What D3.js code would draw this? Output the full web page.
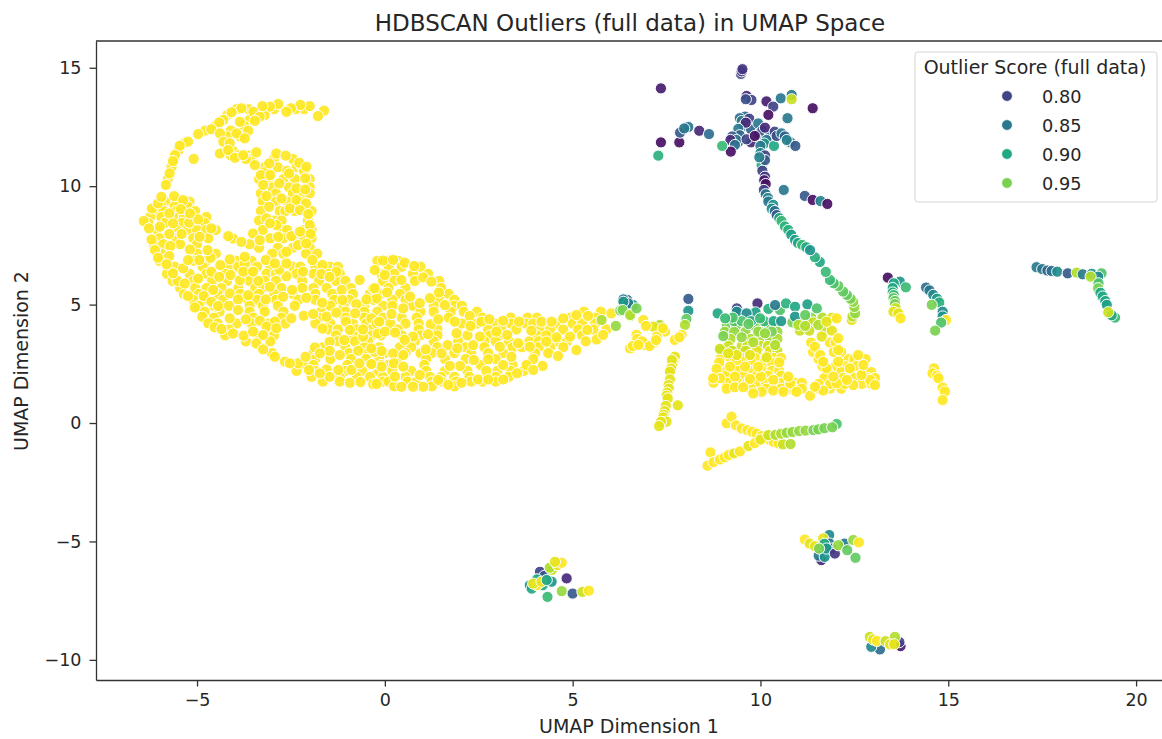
<!DOCTYPE html>
<meta charset="utf-8">
<style>
  body, html { margin: 0; background: #fff; }
  svg { display: block; }
  text { font-family: "DejaVu Sans", sans-serif; fill: #262626; }
  .axis path, .axis line { stroke: #333; stroke-width: 1.3; }
  .axis text { font-size: 17.5px; }
</style>
<body>
<svg></svg>
<script src="https://d3js.org/d3.v7.min.js"></script>
<script>
var xTicks = [-5, 0, 5, 10, 15, 20];
var yTicks = [-10, -5, 0, 5, 10, 15];
var legendScores = [0.80, 0.85, 0.90, 0.95];

// yellow body, all at score 1.0, [umap1, umap2]
var bodyTopArc = [[-1.62,13.19],[-1.78,12.96],[-2,13.38],[-2.25,13.43],[-2.5,13.29],[-2.62,13.14],[-2.84,13.47],[-3.06,13.36],[-3.26,13.38],[-3.5,13.14],[-3.33,12.93],[-3.46,12.76],[-3.82,13.29],[-4.08,13.12],[-4.41,12.69],[-4.62,12.4],[-4.97,12.2],[-3.86,12.72],[-3.64,12.34],[-3.95,12.23],[-3.73,12.02],[-4.39,12.23],[-4.3,11.88],[-4.13,11.81],[-5.24,11.88],[-5.46,11.71],[-5.59,11.31],[-5.64,11.06],[-5.73,10.54],[-5.83,10.05],[-5.09,11.15],[-4.39,11.38],[-4.17,11.52],[-3.99,11.2],[-3.77,11.31],[-3.42,11.43],[-3.46,10.89]];
var bodyRightLobe = [[-2.89,11.38],[-2.64,11.29],[-3.08,10.96],[-2.28,10.99],[-2.09,10.82],[-3.3,10.47],[-3.05,10.47],[-2.55,10.54],[-2.12,10.33],[-3.24,10.05],[-2.81,10.12],[-2.35,9.91],[-2.12,9.86],[-3.15,9.58],[-2.75,9.48],[-2.35,9.41],[-2.1,9.27],[-3.08,9.13],[-2.53,9.06],[-2.26,8.99],[-2.04,8.82],[-3.15,8.64],[-2.89,8.36],[-3.06,8.43],[-2,8.36],[-2.49,7.89],[-2.84,7.86],[-1.98,7.98],[-2.26,8.08],[-2.62,7.23],[-2.31,7.51],[-2.09,7.58],[-1.93,6.88],[-1.66,6.67],[-1.69,6.29],[-2.18,6.39],[-2.62,6.2],[-2.81,6.48],[-3.17,6.88],[-2.93,6.74],[-2.62,6.74],[-1.29,6.39],[-1.47,6.17],[-3.51,8],[-3.6,7.55],[-4.04,7.79],[-3.82,7.65],[-3.33,7.72],[-4.17,7.89]];
var bodyLeftLobe = [[-6.42,8.53],[-6.2,9.06],[-6.04,9.27],[-5.95,9.55],[-5.61,9.58],[-5.37,9.41],[-5.74,8.85],[-5.43,9.03],[-5.99,8.29],[-6.28,8.22],[-6.21,7.75],[-5.74,7.98],[-5.41,7.98],[-5.64,8.43],[-5.21,8.46],[-4.97,8.6],[-4.62,8.22],[-4.93,7.86],[-5.19,8.85],[-5.71,7.47],[-5.19,7.33],[-6.12,7.3],[-6.04,6.98],[-5.74,7.05],[-5.81,6.7],[-5.37,6.53],[-5.52,6],[-5.33,5.89],[-4.94,6.88],[-4.64,6.98],[-4.72,7.3],[-5.24,6.88],[-4.97,6.1],[-5.64,6.32],[-4.62,6.39],[-4.38,6.67],[-4.13,6.91],[-3.73,6.74],[-4.41,6.17],[-4.11,6.25],[-3.86,6.03],[-3.37,6],[-3.73,7.02],[-3.06,5.75],[-3.77,6.39],[-3.51,6.39]];
var bodyLowerEdge = [[-1.15,5.62],[-0.67,6.04],[-0.31,5.69],[-0.22,5.26],[-2.47,5.62],[-4.13,5.47],[-4.57,5.62],[-5.24,5.36],[-4.82,5.36],[-4.62,5.12],[-4.44,4.94],[-5.06,4.88],[-3.64,5.4],[-3.91,5.22],[-3.17,5.22],[-2.71,5.33],[-2.09,5.29],[-1.67,5.08],[-1.13,5.19],[-0.76,5.02],[-0.49,5.22],[-3.91,4.77],[-4.13,4.42],[-3.7,4.38],[-3.33,4.32],[-2.93,4.28],[-4.86,4.49],[-4.7,4.21],[-4.53,4.04],[-4.35,3.97],[-2.49,4.42],[-2.16,4.53],[-1.91,4.6],[-1.55,4.49],[-1.29,4.66],[-1.04,4.28],[-0.79,4.63],[-1.66,3.99],[-0.36,4.42],[-3.15,4.07],[-2.89,4],[-4.04,3.78],[-3.76,3.69],[-3.51,3.86],[-3.24,3.71],[-3.42,3.36],[-3.24,3.11],[-2.93,2.8],[-2.66,2.59],[-2.31,2.52],[-2.11,2.8],[-1.86,3.19],[-1.47,3.43],[-1.08,3.5],[-0.58,3.64],[-0.93,3.93],[-0.58,3.95],[-1.47,3.05],[-1.2,2.87],[-0.71,3.05],[-0.27,3.01],[-1.73,2.94],[-2.02,2.24],[-1.55,2.26],[-1.24,2.24],[-0.89,2.24],[-0.68,2.52],[-0.36,2.45],[-0.93,1.7],[-0.65,1.73],[-0.31,1.64],[-1.47,1.95],[-1.73,2.1],[-2.53,2.52],[-0.22,4.21],[-0.18,3.78]];
var bodyTail = [[-0.05,6.86],[0.22,6.89],[0.53,6.77],[0.78,6.63],[-0.27,6.46],[0,6.25],[0.44,6.04],[1.02,6.15],[1.24,5.97],[-0.27,5.69],[0.06,5.51],[0.67,5.34],[1.2,5.27],[1.44,5.51],[0.93,5.06],[1.6,4.98],[0.49,4.84],[0.18,4.6],[-0.15,4.28],[1.86,4.28],[2.26,4.52],[1.22,4.17],[1.42,4.38],[2.28,4.1],[2.57,4.28],[2.78,4.38],[3.15,4.32],[3.57,4.28],[4.17,4.28],[4.75,4.42],[4.44,4.28],[5.1,4.56],[5.41,4.52],[6.03,4.63],[0,3.86],[0.27,3.82],[0.75,3.65],[1.15,3.75],[0.53,3.51],[1.91,3.79],[2.53,3.65],[3.26,3.72],[3.9,3.9],[2.97,3.86],[4.57,3.62],[4.93,3.65],[5.39,3.93],[5.64,3.53],[5.81,3.72],[5.1,3.08],[4.61,2.83],[4.3,3.44],[2.35,3.29],[1.67,3.29],[1.09,3.11],[1.93,3.15],[3.06,3.22],[3.86,3.22],[3.37,2.8],[3.55,3.37],[-0.09,3.04],[0.22,2.94],[-0.36,3.15],[1.51,2.94],[2.75,2.69],[2.37,2.66],[2,2.41],[1.73,2.41],[3.15,2.45],[3.77,2.45],[4.2,2.41],[0.24,2.52],[-0.09,2.38],[-0.36,2.49],[0.93,2.03],[0.27,1.96],[0.49,2.38],[0.44,1.53],[1.02,1.53],[1.69,1.61],[2.04,1.7],[2.48,1.84],[2.75,1.84],[3.15,1.84],[3.52,2.1],[3.95,2.24],[-0.22,1.65],[0.75,1.53],[1.42,1.82],[0.49,2.87]];
// denser fill of the body, rows of [umap2, [umap1...]]
var bodyFillRows = [
[13.25,[-2.15,-2.38,-2.95,-3.16,-3.62,-3.95]],[13,[-4.2,-3.2]],[12.8,[-4.3,-3.6]],[12.55,[-4.5,-3.75]],[12.35,[-4.78,-4.1]],[12.1,[-4.2,-3.85]],[11.8,[-5.35]],[11.5,[-5.5,-4.25,-4.05]],[11.3,[-4.1,-3.9,-3.6]],[11.15,[-5.6,-3.55,-3.7,-2.95,-2.45]],
[10.8,[-5.68,-3.2,-2.85,-2.35,-2.2]],[10.65,[-3.15,-2.6,-2.15]],[10.3,[-5.78,-3.35,-3.1,-2.7,-2.4,-2]],[9.95,[-3,-2.55,-2]],[9.7,[-3.3,-2.9,-2.45,-2.2,-2]],[9.35,[-5.85,-5.5,-5.2,-3.25,-2.9,-2.6,-2.25]],
[9.15,[-5.95,-5.6,-5.25]],[8.95,[-6.1,-5.9,-5.55,-5.05,-3.3,-2.8,-2.65,-2.4,-1.95]],[8.7,[-6.25,-5.95,-5.5,-5.35,-4.75]],[8.55,[-3.35,-2.95,-2.75,-2.05]],[8.45,[-6.3,-5.85,-5.4,-4.8]],
[8.15,[-6.05,-5.55,-5.25,-5,-4.75,-4.5,-3.25,-2.75,-2.6,-2.15,-1.95]],[7.8,[-6,-5.55,-5.1,-4.7,-3.05,-2.7,-2.4,-2.15,-1.95]],[7.55,[-6.15,-5.9,-5.45,-5]],[7.4,[-3.35,-2.85,-2.45,-2]],
[7.15,[-5.95,-5,-4.5,-3,-2.7,-2.1,-1.8]],[6.85,[-6,-5.1,-4.75,-3.95,-3.55,-0.2,0.35,0.1]],[6.6,[-5.6,-4.85,-4.15,-3.9,-3.4,-3.05,-2.45,-2.25,-1.85,-1.45,-1.25,0.1,0.45,0.95]],
[6.3,[-5.8,-5.2,-4.75,-4.25,-3.6,-3.15,-2.9,-2.35,-1.9,-1.5,-1.2,-0.1,0.25,0.75,1.15]],[6,[-5.65,-5.1,-4.6,-4.2,-3.6,-3.2,-2.9,-2.2,-1.75,-1.3,-1.05,-0.05,0.25,0.8,1.45]],
[5.7,[-5.45,-5.05,-4.75,-4.35,-3.9,-3.45,-3.25,-2.75,-2.2,-1.9,-1.55,-0.9,0.1,0.55,1.5]],[5.45,[-5.35,-4.95,-4.45,-3.85,-3.35,-2.95,-2.45,-1.85,-1.4,-0.85,-0.4,-0.1,0.4,1.7]],
[5.2,[-5.1,-4.8,-4.3,-3.65,-3.4,-2.9,-2.3,-1.85,-1.35,-0.95,-0.3,0.2,0.55,1.45,1.85]],[4.95,[-4.95,-4.55,-4.15,-3.6,-3.25,-2.85,-2.4,-1.45,-1.1,-0.55,-0.05,0.2,0.75,1.3,1.85,2.05]],
[4.7,[-4.8,-4.4,-3.6,-3.2,-2.7,-1.7,-1.05,-0.55,-0.2,0.95,1.3,1.75,2.1,2.45,5.3,5.75]],[4.45,[-4.55,-3.5,-2.75,-1.75,-1.05,-0.55,-0.05,0.45,0.85,1.7,2.6,3.35,3.8,4.05,4.95,5.6]],
[4.2,[-4.45,-3.95,-3.55,-3.1,-2.65,-1.85,-1.45,-0.85,-0.5,0.15,0.55,0.9,2.05,2.45,2.95,3.35,3.75,3.95,4.6,5,5.25,5.6]],
[3.95,[-4.15,-3.05,-1.5,-1.25,-0.75,-0.35,0.35,0.9,1.4,2.75,3.1,3.5,4.15,4.4,4.75,5.15,5.55,5.9]],[3.7,[-4.25,-3.35,-2.95,-1.3,-0.85,-0.35,-0.1,0.45,0.95,1.4,2.2,2.8,3.05,4.05,4.3,5.25]],
[3.45,[-3.7,-3.05,-1.25,-0.8,-0.45,0.8,1.3,1.95,2.65,2.95,3.3,3.85,4.1,4.6,4.85,5.35]],[3.2,[-1.65,-1.05,-0.55,-0.15,0.4,0.7,1.4,2.15,2.65,3.4,3.65,4.1,4.4,4.75]],
[2.95,[-3,-1.9,-0.95,-0.45,0,0.55,0.95,1.25,1.85,2.3,2.75,3.15,4,4.35]],[2.7,[-1.85,-1.45,-0.9,-0.5,-0.15,0.35,1.1,1.6,2.15,2.95,3.95]],
[2.45,[-2.1,-1.9,-1,-0.1,0.1,1.05,2.55,3.4]],[2.2,[-2.35,-1.85,-1.05,-0.6,-0.2,0.2,0.7,1.1,1.6,2.2,2.7,3,3.35,3.7]],
[1.95,[-1.95,-1.2,-0.75,-0.4,-0.05,0.55,1.2,1.5,1.85,2.25,2.95,3.3]],[1.75,[-1.65,-1.2,-0.05,0.1,0.6,0.85,1.25,1.5,1.9,2.3,2.6,2.95]],[1.55,[0.25,1.25,1.85]]
];

// everything else, [umap1, umap2, score]
var blockFill = [[9.1,4.1,.95],[9.35,4.1,.95],[9.85,4.1,.95],[10.15,4.1,.94],[10.4,4.1,.95],[9.05,3.85,.96],[9.3,3.85,.96],[9.6,3.85,.96],[10,3.85,.96],[10.45,3.85,.96],[9.2,3.55,.97],[9.75,3.55,.97],[10,3.55,.97],[10.25,3.55,.96],[10.45,3.55,.97],[9.15,3.25,.98],[9.5,3.25,.98],[9.65,3.25,.98],[10,3.25,.98],[10.2,3.25,.98],[8.95,3.05,.98],[9.25,3.05,.98],[9.6,3.05,.98],[9.9,3.05,.99],[10.25,3.05,.99],[10.45,3.05,.98],[8.95,2.75,1],[9.2,2.75,1],[9.5,2.75,1],[9.85,2.75,1],[10.35,2.75,1],[10.55,2.75,1],[8.9,2.55,1],[9.35,2.55,1],[9.75,2.55,1],[10.1,2.55,1],[10.3,2.55,1],[9.1,2.2,1],[9.4,2.2,1],[9.7,2.2,1],[10.05,2.2,1],[10.3,2.2,1],[10.5,2.2,1],[8.85,2,1],[9.1,2,1],[9.55,2,1],[9.9,2,1],[10.2,2,1],[10.55,2,1],[8.75,1.7,1],[9.1,1.7,1],[9.4,1.7,1],[9.65,1.7,1],[9.95,1.7,1],[10.15,1.7,1],[10.5,1.7,1],[10.9,1.7,1],[11.1,1.7,1],[9.1,1.45,1],[9.75,1.45,1],[10.15,1.45,1],[10.55,1.45,1],[10.8,1.45,1],[11.1,1.45,1],[11.55,1.45,1],[11.85,1.45,1],[12.15,1.45,1]];
var blockRightFill = [[11.35,4.45,.96],[11.65,4.45,.97],[11.9,4.45,.99],[10.85,4.25,.95],[11.1,4.25,.97],[11.4,4.25,.98],[11.05,3.9,.98],[11.3,3.9,.98],[11.7,3.9,.98],[11.9,3.9,.99],[11.35,3.4,1],[11.85,3.4,1],[12,3.4,1],[11.4,3,1],[11.95,3,1],[12.15,3,1],[11.55,2.7,1],[12.35,2.7,1],[12.5,2.7,1],[12.8,2.7,1],[11.65,2.4,1],[12,2.4,1],[12.25,2.4,1],[12.55,2.4,1],[11.8,2.15,1],[12.15,2.15,1],[12.4,2.15,1],[12.75,2.15,1],[12.95,2.15,1],[11.7,1.9,1],[12.2,1.9,1],[12.5,1.9,1],[12.85,1.9,1],[13.05,1.9,1],[11.55,1.65,1],[11.85,1.65,1],[12.25,1.65,1],[12.7,1.65,1],[12.95,1.65,1]];
var tailEnd = [[5.77,4.35,.97],[6.15,4.1,.96],[6.42,5.03,.9],[6.45,5.2,.85],[6.35,5.22,.85],[6.61,4.98,.88],[6.48,5.05,.85],[6.35,5.12,.88],[6.27,4.75,.95],[6.54,4.52,.96],[6.33,4.77,.95],[6.53,4.56,.97],[6.7,4.84,.95]];
var smallHook = [[6.88,4.35,1],[7.32,4.14,.97],[7.15,4.07,.99],[7.46,3.86,1],[6.7,3.72,1],[7.24,3.65,1],[6.66,3.29,1],[6.93,3.29,1],[7.15,3.37,1],[6.53,3.15,1],[6.79,3.44,1],[6.72,3.55,1],[6.85,3.45,1],[7.05,3.25,1],[6.6,3.25,1],[7.22,3.5,1],[7.4,4,1],[6.95,4.1,1],[6.75,3.3,1]];
var stem = [[8.08,5.24,.82],[8.08,4.74,.88],[8.03,4.39,.94],[7.99,4.14,.97],[7.9,3.72,1],[7.72,3.51,1],[7.84,3.62,1],[7.72,2.8,.99],[7.68,2.6,.99],[7.65,2.45,.99],[7.64,2.66,.99],[7.62,2.3,.99],[7.59,2.17,.99],[7.59,1.84,.99],[7.55,1.6,.99],[7.56,1.45,.99],[7.52,1.28,.99],[7.5,1.15,.99],[7.53,1.04,.99],[7.48,.72,.99],[7.8,.75,.99],[7.45,.5,.99],[7.42,.35,.99],[7.41,.24,.99],[7.5,.06,.99],[7.35,.05,.99],[7.3,-.13,.99]];
var blockTop = [[8.86,4.63,.9],[9.37,4.84,.8],[9.37,4.7,.87],[9.92,5.05,.78],[9.87,4.67,.89],[9.63,4.63,.87],[10.21,4.82,.91],[10.52,4.77,.93],[10.68,5.05,.91],[10.92,4.91,.9],[11.25,5.01,.89],[11.5,4.84,.93],[10.39,4.98,.85],[9.3,4.3,.93],[9.5,4.3,.93],[9.75,4.3,.9],[10.1,4.3,.92],[10.35,4.3,.9],[10.55,4.3,.88],[9.26,4.45,.93],[9.06,4.42,.92],[9.68,4.18,.94],[9.99,4.42,.92],[10.92,4.49,.88],[11.19,4.56,.94]];
var blockMiddle = [[11.01,4.14,.97],[11.19,4.1,.97],[11.54,4.14,.97],[11.76,4.28,.99],[12.03,4.42,1],[9.01,3.67,.95],[9.5,3.62,.96],[9.94,3.86,.96],[10.3,3.86,.95],[10.12,3.79,.96],[9.81,3.41,.97],[10.39,3.29,.97],[8.92,3.13,.98],[9.37,2.87,.99],[9.72,2.87,.99],[10.16,2.77,.99],[10.5,2.56,1],[9.14,2.94,.99]];
var blockBottom = [[8.83,2.28,1],[8.92,1.89,1],[9.32,1.96,1],[9.72,1.86,1],[10.01,1.96,1],[10.34,1.82,1],[9.32,1.51,1],[9.54,1.51,1],[10.03,1.32,1],[10.34,1.37,1],[10.79,1.67,1],[10.96,1.32,1],[11.32,1.15,1],[11.67,1.37,1],[11.45,1.53,1],[9.81,1.25,1],[10.61,1.32,1],[8.74,1.89,1],[9.19,2.38,1],[9.59,2.38,1],[9.94,2.38,1],[10.74,1.96,1]];
var blockRight = [[11.63,3.65,.99],[12.07,3.58,1],[11.45,3.22,1],[11.59,2.87,1],[12.07,3.08,1],[11.76,2.31,1],[12.07,2.59,1],[12.38,2.31,1],[12.6,2.87,1],[12.47,1.6,1],[12.92,1.82,1],[12.03,1.68,1],[12.69,2.03,1],[11.94,1.96,1],[12.3,1.82,1],[13.05,1.6,1],[12.74,2.45,1],[11.67,2.59,1]];
var crossLines = [[9.1,-.01,1],[9.23,.27,1],[9.35,-.1,1],[9.5,-.23,1],[9.65,-.3,1],[9.78,-.37,1],[9.9,-.45,1],[10.03,-.55,1],[10.15,-.65,1],[10.25,-.72,1],[10.35,-.8,1],[10.48,-.86,1],[10.6,-.9,.98],[10.8,-.89,.97],[8.59,-1.8,1],[8.67,-1.24,1],[8.75,-1.65,1],[8.92,-1.54,1],[9.05,-1.45,1],[9.15,-1.35,1],[9.3,-1.28,.99],[9.45,-1.2,1],[9.68,-.97,.99],[9.85,-.85,1],[10,-.7,.99],[10.21,-.51,.98],[10.4,-.5,.97],[10.55,-.45,.97],[10.7,-.41,.96],[10.85,-.38,.96],[11.03,-.34,.96],[11.2,-.32,.96],[11.41,-.3,.95],[11.54,-.27,.95],[11.7,-.22,.95],[12.03,-.04,.93],[11.91,-.18,.95]];
var armBridge = [[12.43,4.35,.99],[12.45,4.5,.97],[12.52,4.63,.96],[12.5,4.9,.96],[12.47,5.12,.96],[12.4,5.25,.95],[12.3,5.41,.94],[12.2,5.55,.94],[12.07,5.79,.94],[11.95,5.9,.93],[11.85,6.04,.92],[11.74,6.38,.92],[11.58,6.8,.9],[11.45,7,.91]];
var starTop = [[9.48,14.74,.8],[9.5,14.85,.79],[9.52,14.94,.79],[7.35,14.13,.77],[9.63,13.81,.78],[9.76,13.64,.8],[9.61,13.67,.81],[10.16,13.58,.77],[10.34,13.36,.8],[10.21,13.01,.76],[10.54,13.71,.85],[10.83,13.85,.85],[10.83,13.67,.98],[11.39,13.29,.76],[10.72,12.87,.85]];
var starCore = [[9.59,12.94,.84],[9.45,12.87,.84],[9.5,12.75,.85],[9.7,12.85,.8],[9.55,12.55,.84],[9.75,12.4,.83],[9.94,12.65,.85],[9.95,12.2,.84],[10.05,12.35,.82],[10.25,12.15,.84],[9.61,12.68,.78],[9.41,12.42,.85],[9.45,12.15,.83],[9.25,12.1,.82],[10.12,12.47,.78],[9.4,11.85,.85],[9.36,11.95,.85],[9.2,11.95,.78],[9.32,11.74,.84],[9.21,11.46,.76],[8.98,11.7,.92],[9.75,11.85,.78],[9.63,11.98,.8],[9.85,12.12,.76],[10.16,11.95,.85],[10.1,11.8,.88],[10,11.7,.85],[10.36,11.7,.9],[10.38,12.3,.8],[10.43,12.12,.81],[10.56,12.23,.85],[10.65,12.1,.83],[10.8,11.85,.85],[10.7,11.95,.86],[10.93,11.7,.82]];
var starLeft = [[7.35,11.85,.76],[7.28,11.29,.91],[7.84,11.85,.76],[7.86,12.26,.82],[8.08,12.5,.85],[7.97,12.44,.85],[8.37,12.34,.78],[8.63,12.2,.84]];
var arm = [[10.03,10.89,.9],[10,11.4,.87],[10.12,11.3,.8],[10.12,11.1,.82],[9.97,11.22,.86],[10.05,10.65,.8],[10.12,10.4,.79],[10.1,10.25,.77],[10.14,10.09,.76],[10.09,9.84,.8],[10.14,9.66,.85],[10.2,9.5,.86],[10.62,9.84,.85],[11.18,9.59,.82],[11.39,9.42,.76],[11.6,9.37,.86],[11.78,9.25,.76],[10.21,9.35,.85],[10.34,9.21,.88],[10.3,9.05,.87],[10.38,8.95,.84],[10.43,8.78,.82],[10.5,8.65,.9],[10.56,8.53,.92],[10.65,8.3,.91],[10.74,8.15,.91],[10.82,7.95,.89],[10.92,7.73,.89],[11,7.6,.9],[11.11,7.52,.92],[11.22,7.42,.9],[11.32,7.3,.88]];
var pairLeft = [[13.39,6.14,.76],[13.71,5.97,.88],[13.55,5.9,.9],[13.87,5.73,.92],[13.52,5.7,.9],[13.52,5.51,.91],[13.55,5.4,.92],[13.54,5.27,.94],[13.58,5.15,.94],[13.58,5.02,.95],[13.6,4.85,.98],[13.54,4.7,.99],[13.67,4.63,.99],[13.73,4.42,1]];
var pairRight = [[14.41,5.72,.84],[14.5,5.6,.85],[14.6,5.41,.87],[14.7,5.25,.89],[14.76,5.09,.91],[14.56,4.99,.95],[14.85,4.7,.87],[14.85,4.5,.88],[14.94,4.35,1],[14.81,4.24,.93],[14.65,3.9,.95],[14.62,2.31,1],[14.58,2.1,1],[14.7,2,1],[14.74,1.89,1],[14.85,1.5,1],[14.91,1.33,1],[14.85,.97,1]];
var farRight = [[17.35,6.58,.85],[17.5,6.5,.85],[17.64,6.44,.83],[17.75,6.42,.84],[17.9,6.39,.87],[18.18,6.32,.82],[18.42,6.35,.97],[18.58,6.28,.85],[19.08,6.32,.93],[18.82,6.3,.88],[18.99,6.18,.87],[18.79,6.18,.97],[19,5.9,.93],[18.99,5.69,.95],[19.05,5.5,.9],[19.11,5.34,.9],[19.18,5.15,.9],[19.22,4.99,.89],[19.44,4.45,.92],[19.35,4.55,.9],[19.26,4.68,.98]];
var clusterA = [[3.86,-6.85,.88],[3.91,-6.99,.9],[4.13,-6.28,.8],[4.25,-6.45,.82],[4.05,-6.6,.9],[4.2,-6.85,.9],[4.05,-6.85,1],[3.95,-6.78,.99],[4.17,-6.7,.99],[4.44,-6.7,.88],[4.31,-6.63,.9],[4.45,-6.2,.98],[4.39,-6.11,.97],[4.6,-6,.99],[4.71,-5.9,1],[4.53,-5.86,.99],[4.84,-6.56,.78],[4.71,-7.1,.96],[5,-7.2,.82],[5.26,-7.13,.98],[5.43,-7.08,1],[4.33,-7.34,.92]];
var clusterB = [[11.83,-4.73,.87],[11.18,-4.92,1],[11.31,-5.09,.99],[11.67,-4.87,.99],[11.62,-5.79,.78],[11.55,-5.6,.85],[11.71,-5.65,.88],[11.84,-5.09,.85],[11.9,-5.3,.85],[11.7,-5.1,.9],[11.45,-5.2,.99],[11.76,-5.3,.88],[11.56,-5.3,.95],[11.98,-5.51,.79],[12.24,-5.09,.85],[12.07,-5.16,.96],[12.31,-5.37,.94],[12.53,-5.69,.94],[12.47,-4.94,.96],[12.62,-5.04,1]];
var clusterC = [[13.18,-9.56,.84],[12.95,-9.45,.87],[13.73,-9.42,.77],[13.7,-9.25,.8],[12.91,-9.03,.98],[13,-9.14,.99],[13.1,-9.2,1],[13.33,-9.21,.98],[13.58,-9.03,.97],[13.45,-9.35,.99],[13.56,-9.34,.99]];

var width = 1162, height = 739;
var margin = {top: 41, right: 0, bottom: 59, left: 96};

var svg = d3.select("svg").attr("width", width).attr("height", height);

var x = d3.scaleLinear().domain([-7.69, 20.69]).range([margin.left, width - margin.right]);
var y = d3.scaleLinear().domain([-10.85, 16.13]).range([height - margin.bottom, margin.top]);
// seaborn hue norm runs 0.75 to 1.0 over viridis
var color = d3.scaleSequential(d3.interpolateViridis).domain([0.75, 1]);

var fmt = function(d) { return String(d).replace("-", "\u2212"); };

var g = svg.append("g");

var bodyGroups = [bodyTopArc, bodyRightLobe, bodyLeftLobe, bodyLowerEdge, bodyTail];
var otherGroups = [blockFill, blockRightFill, tailEnd, smallHook, stem, blockTop, blockMiddle, blockBottom, blockRight, crossLines, armBridge,
    starTop, starCore, starLeft, arm, pairLeft, pairRight, farRight, clusterA, clusterB, clusterC];

var points = [];
bodyFillRows.forEach(function(row) {
    row[1].forEach(function(v) { points.push([v, row[0], 1]); });
});
bodyGroups.forEach(function(grp) {
    grp.forEach(function(d) { points.push([d[0], d[1], 1]); });
});
otherGroups.forEach(function(grp) {
    grp.forEach(function(d) { points.push(d); });
});

g.selectAll("circle")
    .data(points)
    .enter().append("circle")
    .attr("cx", function(d) { return x(d[0]); })
    .attr("cy", function(d) { return y(d[1]); })
    .attr("r", 5.6)
    .attr("fill", function(d) { return color(d[2]); })
    .attr("fill-opacity", 0.92)
    .attr("stroke", "#fff")
    .attr("stroke-width", 1);

svg.append("g")
    .attr("class", "axis")
    .attr("transform", "translate(0," + (height - margin.bottom) + ")")
    .call(d3.axisBottom(x).tickValues(xTicks).tickFormat(fmt).tickSize(6.5).tickPadding(7).tickSizeOuter(0));

svg.append("g")
    .attr("class", "axis")
    .attr("transform", "translate(" + margin.left + ",0)")
    .call(d3.axisLeft(y).tickValues(yTicks).tickFormat(fmt).tickSize(6.5).tickPadding(8).tickSizeOuter(0));

// top spine
svg.append("line")
    .attr("x1", margin.left).attr("x2", width)
    .attr("y1", margin.top).attr("y2", margin.top)
    .attr("stroke", "#333").attr("stroke-width", 1.3);

svg.append("text").attr("x", 630).attr("y", 31)
    .attr("text-anchor", "middle").style("font-size", "23px")
    .text("HDBSCAN Outliers (full data) in UMAP Space");
svg.append("text").attr("x", 629).attr("y", 733)
    .attr("text-anchor", "middle").style("font-size", "19px")
    .text("UMAP Dimension 1");
svg.append("text").attr("transform", "translate(28,361) rotate(-90)")
    .attr("text-anchor", "middle").style("font-size", "19px")
    .text("UMAP Dimension 2");

var legend = svg.append("g");
legend.append("rect")
    .attr("x", 915).attr("y", 52).attr("width", 242).attr("height", 150).attr("rx", 3)
    .attr("fill", "#fff").attr("fill-opacity", 0.8)
    .attr("stroke", "#d5d5d5");
legend.append("text").attr("x", 1035).attr("y", 74)
    .attr("text-anchor", "middle").style("font-size", "19px")
    .text("Outlier Score (full data)");
var row = legend.selectAll(".row")
    .data(legendScores)
    .enter().append("g")
    .attr("class", "row")
    .attr("transform", function(d, i) { return "translate(0," + (96 + i * 29) + ")"; });
row.append("circle").attr("cx", 1007).attr("r", 5.4)
    .attr("fill", function(d) { return color(d); })
    .attr("stroke", "#fff").attr("stroke-width", 0.8);
row.append("text").attr("x", 1042).attr("y", 7)
    .style("font-size", "17.7px")
    .text(function(d) { return d.toFixed(2); });
</script>
